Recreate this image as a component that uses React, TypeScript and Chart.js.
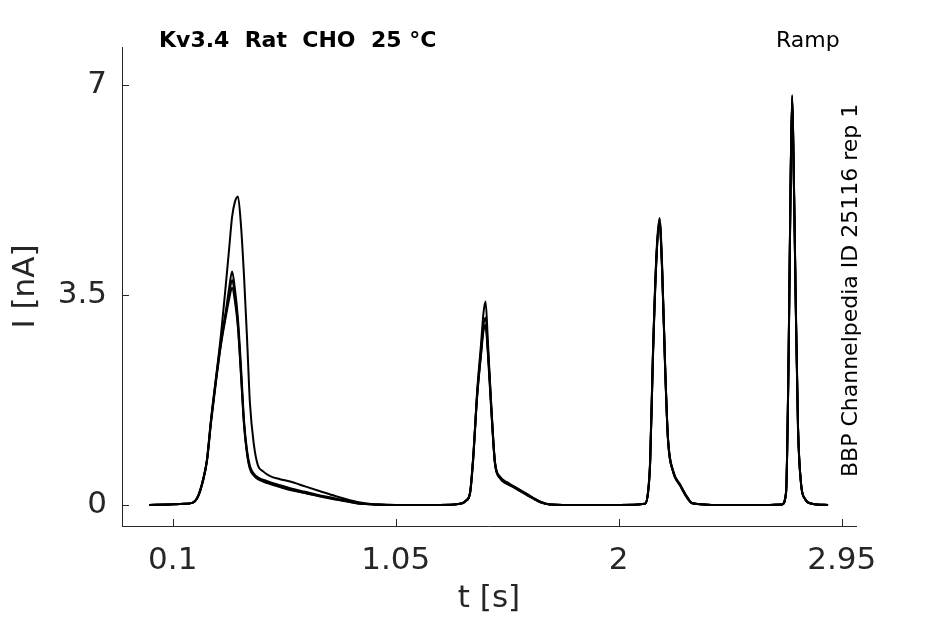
import { useEffect, useRef } from 'react';
import { Chart, registerables } from 'chart.js';

Chart.register(...registerables);

// time grid shared by all sweeps (s)
const timeS = [
  0.0, 0.089, 0.152, 0.186, 0.208, 0.229, 0.246, 0.263, 0.284, 0.306,
  0.327, 0.34, 0.353, 0.365, 0.378, 0.391, 0.404, 0.417, 0.429, 0.446,
  0.463, 0.485, 0.515, 0.557, 0.6, 0.664, 0.728, 0.792, 0.855, 0.898,
  0.962, 1.068, 1.239, 1.324, 1.35, 1.367, 1.38, 1.397, 1.414, 1.424,
  1.433, 1.443, 1.458, 1.473, 1.495, 1.524, 1.554, 1.58, 1.61, 1.639,
  1.669, 1.708, 1.835, 2.006, 2.112, 2.125, 2.134, 2.146, 2.161, 2.174,
  2.185, 2.198, 2.21, 2.232, 2.262, 2.291, 2.313, 2.432, 2.602, 2.696,
  2.713, 2.724, 2.732, 2.739, 2.745, 2.754, 2.764, 2.777, 2.794, 2.824,
  2.892,
];

// current traces (nA), one per repetition
const sweep1 = [
  0.0, 0.01, 0.02, 0.04, 0.15, 0.42, 0.75, 1.4, 2.1, 2.85,
  3.7, 4.25, 4.8, 5.05, 5.14, 4.65, 3.8, 2.75, 1.7, 1.0,
  0.66, 0.56, 0.48, 0.43, 0.39, 0.31, 0.23, 0.15, 0.08, 0.04,
  0.01, 0.0, 0.0, 0.02, 0.07, 0.2, 0.75, 1.9, 2.7, 3.2,
  3.39, 2.7, 1.6, 0.7, 0.45, 0.36, 0.3, 0.24, 0.18, 0.11,
  0.05, 0.01, 0.0, 0.0, 0.02, 0.2, 0.7, 2.5, 4.2, 4.78,
  4.0, 2.3, 1.1, 0.55, 0.33, 0.13, 0.03, 0.0, 0.0, 0.01,
  0.2, 2.5, 5.3, 6.83, 5.8, 3.5, 1.3, 0.35, 0.1, 0.02,
  0.0,
];
const sweep2 = [
  0.0, 0.01, 0.02, 0.04, 0.15, 0.42, 0.76, 1.42, 2.1, 2.75,
  3.25, 3.6, 3.89, 3.6, 3.1, 2.3, 1.4, 0.9, 0.65, 0.52,
  0.46, 0.42, 0.38, 0.33, 0.28, 0.22, 0.16, 0.11, 0.06, 0.03,
  0.01, 0.0, 0.0, 0.02, 0.08, 0.22, 0.8, 1.85, 2.6, 3.0,
  3.12, 2.6, 1.6, 0.72, 0.47, 0.38, 0.31, 0.25, 0.18, 0.11,
  0.05, 0.01, 0.0, 0.0, 0.02, 0.22, 0.75, 2.55, 4.15, 4.72,
  3.95, 2.3, 1.12, 0.57, 0.34, 0.14, 0.03, 0.0, 0.0, 0.01,
  0.22, 2.55, 5.25, 6.75, 5.75, 3.45, 1.3, 0.36, 0.1, 0.02,
  0.0,
];
const sweep3 = [
  0.0, 0.01, 0.02, 0.04, 0.14, 0.4, 0.74, 1.38, 2.06, 2.7,
  3.2, 3.5, 3.75, 3.5, 3.0, 2.2, 1.35, 0.86, 0.62, 0.5,
  0.44, 0.4, 0.36, 0.31, 0.26, 0.2, 0.15, 0.1, 0.05, 0.02,
  0.01, 0.0, 0.0, 0.02, 0.07, 0.21, 0.78, 1.82, 2.55, 2.95,
  3.0, 2.55, 1.55, 0.7, 0.45, 0.36, 0.3, 0.24, 0.17, 0.1,
  0.04, 0.01, 0.0, 0.0, 0.02, 0.21, 0.72, 2.5, 4.1, 4.7,
  3.9, 2.25, 1.1, 0.56, 0.33, 0.13, 0.03, 0.0, 0.0, 0.01,
  0.21, 2.5, 5.2, 6.8, 5.7, 3.4, 1.28, 0.35, 0.1, 0.02,
  0.0,
];
const sweep4 = [
  0.0, 0.01, 0.02, 0.04, 0.14, 0.4, 0.73, 1.36, 2.04, 2.68,
  3.15, 3.42, 3.62, 3.4, 2.95, 2.15, 1.32, 0.84, 0.6, 0.49,
  0.43, 0.39, 0.35, 0.3, 0.25, 0.2, 0.14, 0.09, 0.05, 0.02,
  0.01, 0.0, 0.0, 0.02, 0.07, 0.2, 0.76, 1.8, 2.52, 2.9,
  2.98, 2.5, 1.52, 0.68, 0.44, 0.35, 0.29, 0.23, 0.16, 0.1,
  0.04, 0.01, 0.0, 0.0, 0.02, 0.2, 0.7, 2.45, 4.12, 4.75,
  3.92, 2.28, 1.08, 0.55, 0.32, 0.12, 0.03, 0.0, 0.0, 0.01,
  0.2, 2.45, 5.22, 6.78, 5.72, 3.42, 1.27, 0.34, 0.1, 0.02,
  0.0,
];

const sweeps = [sweep1, sweep2, sweep3, sweep4];

const xTicks = [0.1, 1.05, 2, 2.95];
const xTickLabels = ['0.1', '1.05', '2', '2.95'];
const yTicks = [0, 3.5, 7];
const yTickLabels = ['0', '3.5', '7'];

const FONT = '"DejaVu Sans", "Liberation Sans", sans-serif';
const AXIS_COLOR = '#262626';

// ticks drawn inside the axes box, plus the corner texts
const decorations = {
  id: 'decorations',
  afterDraw(chart: any) {
    const { ctx, chartArea, scales } = chart;
    ctx.save();
    ctx.strokeStyle = AXIS_COLOR;
    ctx.lineWidth = 1;
    xTicks.forEach((v) => {
      const px = Math.round(scales.x.getPixelForValue(v)) + 0.5;
      ctx.beginPath();
      ctx.moveTo(px, chartArea.bottom);
      ctx.lineTo(px, chartArea.bottom - 7);
      ctx.stroke();
    });
    yTicks.forEach((v) => {
      const py = Math.round(scales.y.getPixelForValue(v)) + 0.5;
      ctx.beginPath();
      ctx.moveTo(chartArea.left, py);
      ctx.lineTo(chartArea.left + 7, py);
      ctx.stroke();
    });

    ctx.fillStyle = '#000';
    ctx.textBaseline = 'alphabetic';
    ctx.textAlign = 'left';
    ctx.font = `bold 22px ${FONT}`;
    ctx.fillText('Kv3.4  Rat  CHO  25 °C', 159, 47);
    ctx.font = `22px ${FONT}`;
    ctx.fillText('Ramp', 776, 47);
    ctx.translate(857, 477);
    ctx.rotate(-Math.PI / 2);
    ctx.fillText('BBP Channelpedia ID 25116 rep 1', 0, 0);
    ctx.restore();
  },
};

const App = () => {
  const canvasRef = useRef<HTMLCanvasElement>(null);
  const chartRef = useRef<Chart | null>(null);

  useEffect(() => {
    document.body.style.margin = '0';
    if (!canvasRef.current) return;
    if (chartRef.current) chartRef.current.destroy();

    const datasets = sweeps.map((sweep, k) => ({
      label: `rep ${k + 1}`,
      data: timeS.map((t, i) => ({ x: t, y: sweep[i] })),
      borderColor: '#000',
      borderWidth: 2,
      pointRadius: 0,
      fill: false,
      cubicInterpolationMode: 'monotone' as const,
    }));

    chartRef.current = new Chart(canvasRef.current, {
      type: 'line',
      data: { datasets },
      options: {
        animation: false,
        responsive: false,
        layout: { padding: { top: 47, right: 89, left: 0, bottom: 0 } },
        plugins: {
          legend: { display: false },
          tooltip: { enabled: false },
        },
        scales: {
          x: {
            type: 'linear',
            min: -0.116,
            max: 3.011,
            afterBuildTicks: (scale: any) => {
              scale.ticks = xTicks.map((v) => ({ value: v }));
            },
            afterFit: (scale: any) => {
              scale.height = 98;
            },
            grid: { display: false, drawTicks: false },
            border: { display: true, color: AXIS_COLOR, width: 1 },
            ticks: {
              autoSkip: false,
              maxRotation: 0,
              padding: 16,
              color: AXIS_COLOR,
              font: { family: FONT, size: 31 },
              callback: (v: any) => xTickLabels[xTicks.indexOf(Number(v))] ?? '',
            },
            title: {
              display: true,
              text: 't [s]',
              color: AXIS_COLOR,
              font: { family: FONT, size: 31 },
              padding: { top: 0, bottom: 6 },
            },
          },
          y: {
            type: 'linear',
            min: -0.35,
            max: 7.63,
            afterBuildTicks: (scale: any) => {
              scale.ticks = yTicks.map((v) => ({ value: v }));
            },
            afterFit: (scale: any) => {
              scale.width = 122;
            },
            grid: { display: false, drawTicks: false },
            border: { display: true, color: AXIS_COLOR, width: 1 },
            ticks: {
              autoSkip: false,
              padding: 15,
              color: AXIS_COLOR,
              font: { family: FONT, size: 31 },
              callback: (v: any) => yTickLabels[yTicks.indexOf(Number(v))] ?? '',
            },
            title: {
              display: true,
              text: 'I [nA]',
              color: AXIS_COLOR,
              font: { family: FONT, size: 31 },
              padding: { top: 7, bottom: 0 },
            },
          },
        },
      },
      plugins: [decorations],
    });

    return () => {
      if (chartRef.current) {
        chartRef.current.destroy();
        chartRef.current = null;
      }
    };
  }, []);

  return <canvas ref={canvasRef} width={945} height={624} />;
};

export default App;
